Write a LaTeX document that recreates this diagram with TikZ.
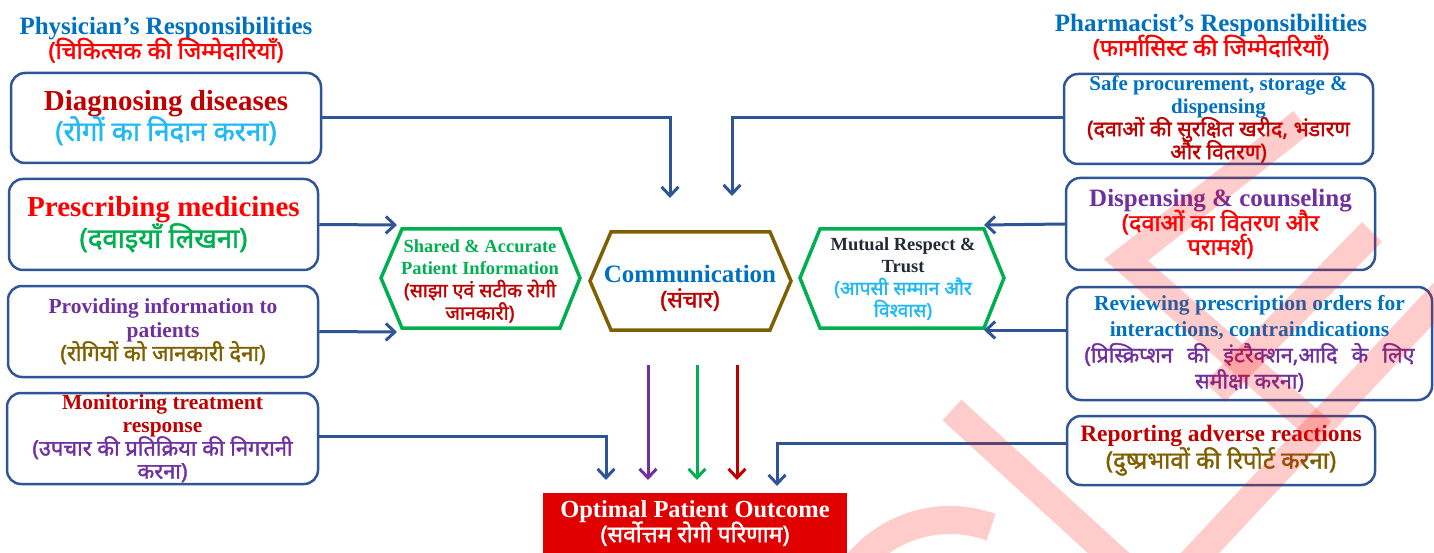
\documentclass[tikz,border=0pt]{standalone}
\usepackage{fontspec}
\setmainfont{Liberation Serif}
\newfontfamily\hi[Script=Devanagari, FakeBold=1.6]{Noto Sans}
\usetikzlibrary{arrows.meta}
\definecolor{boxblue}{HTML}{2F5597}
\definecolor{titleblue}{HTML}{0070C0}
\definecolor{brightred}{HTML}{FF0000}
\definecolor{darkred}{HTML}{C00000}
\definecolor{skyblue}{HTML}{1FBAF2}
\definecolor{leafgreen}{HTML}{00B050}
\definecolor{violet}{HTML}{7030A0}
\definecolor{olive}{HTML}{7F6000}
\definecolor{slate}{HTML}{222A35}
\definecolor{outred}{HTML}{E00000}
% line spacing for multi-line labels (baseline distance fixed)
\newcommand\rows[1]{\fontsize{10}{#1}\selectfont\lineskiplimit=-60pt\lineskip=0pt}
% English and Hindi faces at a given size
\newcommand\ensz[1]{\fontsize{#1}{#1}\selectfont\bfseries}
\newcommand\hisz[1]{\hi\fontsize{#1}{#1}\selectfont}
\tikzset{
  card/.style={draw=boxblue, line width=2.5pt, rounded corners=14pt, inner sep=0pt, align=center},
  hexa/.style={line width=3.5pt, line join=miter},
  hexlabel/.style={inner sep=0pt, align=center},
  link/.style={draw=boxblue, line width=3pt, -{Straight Barb[length=9pt,width=17pt]}},
  feed/.style={line width=3pt, -{Straight Barb[length=9pt,width=17pt]}},
  wmark/.style={draw=red, opacity=0.2, line width=28pt},
}
\begin{document}
\begin{tikzpicture}[x=1pt, y=-1pt]
\useasboundingbox (0,0) rectangle (1434,553);

% ---- column headings
\node[align=center, font=\rows{24}] (phead) at (166,40)
  {{\color{titleblue}\ensz{25}Physician’s Responsibilities}\\
   {\color{brightred}\hisz{23.5}(चिकित्सक की जिम्मेदारियाँ)}};
\node[align=center, font=\rows{24}] (rhead) at (1211,37)
  {{\color{titleblue}\ensz{25}Pharmacist’s Responsibilities}\\
   {\color{brightred}\hisz{23.5}(फार्मासिस्ट की जिम्मेदारियाँ)}};

% ---- physician boxes
\node[card, minimum width=310pt, minimum height=90pt, font=\rows{30}] (diag) at (166,118)
  {{\color{darkred}\ensz{29}Diagnosing diseases}\\
   {\color{skyblue}\hisz{27.5}(रोगों का निदान करना)}};
\node[card, minimum width=309pt, minimum height=91pt, font=\rows{31}] (presc) at (163.5,224.5)
  {{\color{brightred}\ensz{29}Prescribing medicines}\\
   {\color{leafgreen}\hisz{27.5}(दवाइयाँ लिखना)}};
\node[card, minimum width=310pt, minimum height=91pt, font=\rows{23.5}] (inform) at (163,331.5)
  {{\color{violet}\ensz{21.5}Providing information to}\\
   {\color{violet}\ensz{21.5}patients}\\
   {\color{olive}\hisz{22}(रोगियों को जानकारी देना)}};
\node[card, minimum width=311pt, minimum height=91pt, font=\rows{23}] (monitor) at (162.5,438.5)
  {{\color{darkred}\ensz{21.5}Monitoring treatment}\\
   {\color{darkred}\ensz{21.5}response}\\
   {\color{violet}\hisz{21.8}(उपचार की प्रतिक्रिया की निगरानी}\\
   {\color{violet}\hisz{21.8}करना)}};

% ---- pharmacist boxes
\node[card, minimum width=309pt, minimum height=90pt, font=\rows{23}] (procure) at (1218.5,119)
  {{\color{titleblue}\ensz{21}Safe procurement, storage \&}\\
   {\color{titleblue}\ensz{21}dispensing}\\
   {\color{darkred}\hisz{21.4}(दवाओं की सुरक्षित खरीद, भंडारण}\\
   {\color{darkred}\hisz{21.4}और वितरण)}};
\node[card, minimum width=309pt, minimum height=92pt, font=\rows{24}] (counsel) at (1220.5,224)
  {{\color{violet}\ensz{25}Dispensing \& counseling}\\
   {\color{brightred}\hisz{23.4}(दवाओं का वितरण और}\\
   {\color{brightred}\hisz{23.4}परामर्श)}};
\node[card, minimum width=365pt, minimum height=113pt, font=\rows{26}] (review) at (1249.5,343.5)
  {{\color{titleblue}\ensz{21.5}Reviewing prescription orders for}\\
   {\color{titleblue}\ensz{21.5}interactions, contraindications}\\
   {\color{violet}\hisz{21.5}\makebox[330pt][s]{(प्रिस्क्रिप्शन की इंटरैक्शन,आदि के लिए}}\\
   {\color{violet}\hisz{21.5}समीक्षा करना)}};
\node[card, minimum width=308pt, minimum height=69pt, font=\rows{27}] (adverse) at (1221,450.5)
  {{\color{darkred}\ensz{23.5}Reporting adverse reactions}\\
   {\color{olive}\hisz{24}(दुष्प्रभावों की रिपोर्ट करना)}};

% ---- central hexagons
\draw[hexa, draw=leafgreen] (381,278) -- (402,229) -- (560,229) -- (580,278) -- (560,328) -- (402,328) -- cycle;
\node[hexlabel, font=\rows{22.5}] (shared) at (480,281)
  {{\color{leafgreen}\ensz{18.5}Shared \& Accurate}\\
   {\color{leafgreen}\ensz{18.5}Patient Information}\\
   {\color{darkred}\hisz{19.4}(साझा एवं सटीक रोगी}\\
   {\color{darkred}\hisz{19.4}जानकारी)}};
\draw[hexa, draw=olive] (590,281) -- (611,232) -- (770,232) -- (791,281) -- (770,330) -- (611,330) -- cycle;
\node[hexlabel, font=\rows{25}] (comm) at (690,288)
  {{\color{titleblue}\ensz{25}Communication}\\
   {\color{darkred}\hisz{23}(संचार)}};
\draw[hexa, draw=leafgreen] (800,278) -- (820,229) -- (984,229) -- (1004,278) -- (984,328) -- (820,328) -- cycle;
\node[hexlabel, font=\rows{22}] (trust) at (903,279)
  {{\color{slate}\ensz{18.5}Mutual Respect \&}\\
   {\color{slate}\ensz{18.5}Trust}\\
   {\color{skyblue}\hisz{19.2}(आपसी सम्मान और}\\
   {\color{skyblue}\hisz{19.2}विश्वास)}};

% ---- result box
\node[fill=outred, minimum width=304pt, minimum height=60pt, inner sep=0pt, align=center, font=\rows{25}] (outcome) at (695,523)
  {{\color{white}\ensz{24.5}Optimal Patient Outcome}\\
   {\color{white}\hisz{23}(सर्वोत्तम रोगी परिणाम)}};

% ---- arrow end points
\coordinate (tDiag) at (670,198);
\coordinate (tProc) at (732,196);
\coordinate (tPresc) at (397,225);
\coordinate (tInfo) at (397,332);
\coordinate (tCoun) at (984,225);
\coordinate (tRev) at (984,330);
\coordinate (tMon) at (606,480);
\coordinate (tAdv) at (777,486);
\coordinate (sV) at (648,365);
\coordinate (tV) at (648,480);
\coordinate (sG) at (697,365);
\coordinate (tG) at (697,480);
\coordinate (sR) at (737,365);
\coordinate (tR) at (737,480);

% ---- connectors
\draw[link] (diag.east) -| (tDiag);
\draw[link] (procure.west |- 0,118) -| (tProc);
\draw[link] (presc.east) -- (tPresc);
\draw[link] (inform.east) -- (tInfo);
\draw[link] (counsel.west) -- (tCoun);
\draw[link] (review.west |- tRev) -- (tRev);
\draw[link] (monitor.east |- 0,436) -| (tMon);
\draw[link] (adverse.west |- 0,443) -| (tAdv);
\draw[feed, draw=violet] (sV) -- (tV);
\draw[feed, draw=leafgreen] (sG) -- (tG);
\draw[feed, draw=darkred] (sR) -- (tR);

% ---- translucent watermark strokes
\begin{scope}
  \clip (0,0) rectangle (1434,553);
  \draw[wmark, line join=miter] (1302,122) -- (1126,260) -- (1322,432);
  \draw[wmark] (1372,232) -- (1215,392);
  \draw[wmark] (1462,273) -- (1186,568);
  \draw[wmark] (952,410) -- (1125,568);
  \draw[wmark] (950,640) ++(-140:120) arc[start angle=-140, end angle=-70, radius=120];
\end{scope}
\end{tikzpicture}
\end{document}
